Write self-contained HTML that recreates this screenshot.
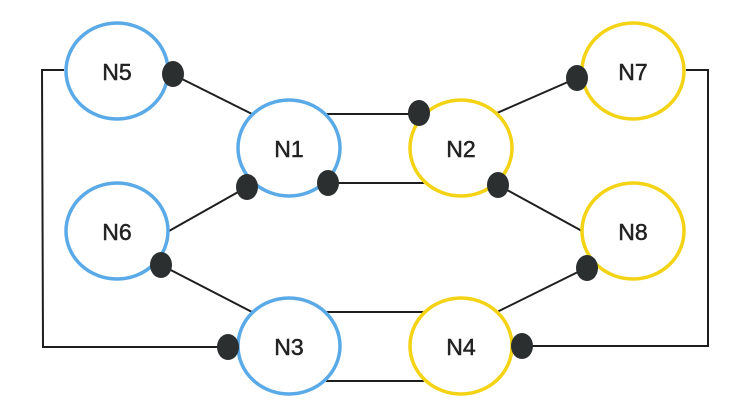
<!DOCTYPE html>
<html><head><style>html,body{margin:0;padding:0;background:#fff;}</style></head>
<body>
<svg width="746" height="413" viewBox="0 0 746 413" xmlns="http://www.w3.org/2000/svg">
<g stroke="#1e1e1e" stroke-width="2" fill="none">
<polyline points="172,74 252,114"/>
<polyline points="325,114 419,114"/>
<polyline points="328,183 424,183"/>
<polyline points="247,187 169,231"/>
<polyline points="161,265 252,312"/>
<polyline points="64,70 42,70 43,347 229,347"/>
<polyline points="325,312 425,312"/>
<polyline points="326,381 424,381"/>
<polyline points="497,113 577,78"/>
<polyline points="498,185 582,231"/>
<polyline points="586,268 497,312"/>
<polyline points="686,70 708,70 708,346 523,346"/>
</g>
<g fill="#fff" stroke-width="3.5">
<ellipse cx="117" cy="71" rx="51" ry="48" stroke="#5aaae8"/>
<ellipse cx="289" cy="148" rx="51" ry="48" stroke="#5aaae8"/>
<ellipse cx="117" cy="231" rx="51" ry="48" stroke="#5aaae8"/>
<ellipse cx="289" cy="346" rx="51" ry="48" stroke="#5aaae8"/>
<ellipse cx="461" cy="148" rx="51" ry="48" stroke="#f3d313"/>
<ellipse cx="633" cy="71" rx="51" ry="48" stroke="#f3d313"/>
<ellipse cx="633" cy="231" rx="51" ry="48" stroke="#f3d313"/>
<ellipse cx="461" cy="346" rx="51" ry="48" stroke="#f3d313"/>
</g>
<g fill="#2b2f2f">
<ellipse cx="173" cy="74" rx="11" ry="13"/>
<ellipse cx="419" cy="113" rx="11" ry="13"/>
<ellipse cx="328" cy="183" rx="11" ry="13"/>
<ellipse cx="247" cy="187" rx="11" ry="13"/>
<ellipse cx="161" cy="265" rx="11" ry="13"/>
<ellipse cx="228" cy="347" rx="11" ry="13"/>
<ellipse cx="577" cy="78" rx="11" ry="13"/>
<ellipse cx="498" cy="185" rx="11" ry="13"/>
<ellipse cx="587" cy="268" rx="11" ry="13"/>
<ellipse cx="522" cy="346" rx="11" ry="13"/>
</g>
<g font-family="Liberation Sans, sans-serif" font-size="23" fill="#222" stroke="#222" stroke-width="0.5" text-anchor="middle">
<text x="117" y="80">N5</text>
<text x="289" y="157">N1</text>
<text x="117" y="240">N6</text>
<text x="289" y="355">N3</text>
<text x="461" y="157">N2</text>
<text x="633" y="80">N7</text>
<text x="633" y="240">N8</text>
<text x="461" y="355">N4</text>
</g>
</svg>
</body></html>
